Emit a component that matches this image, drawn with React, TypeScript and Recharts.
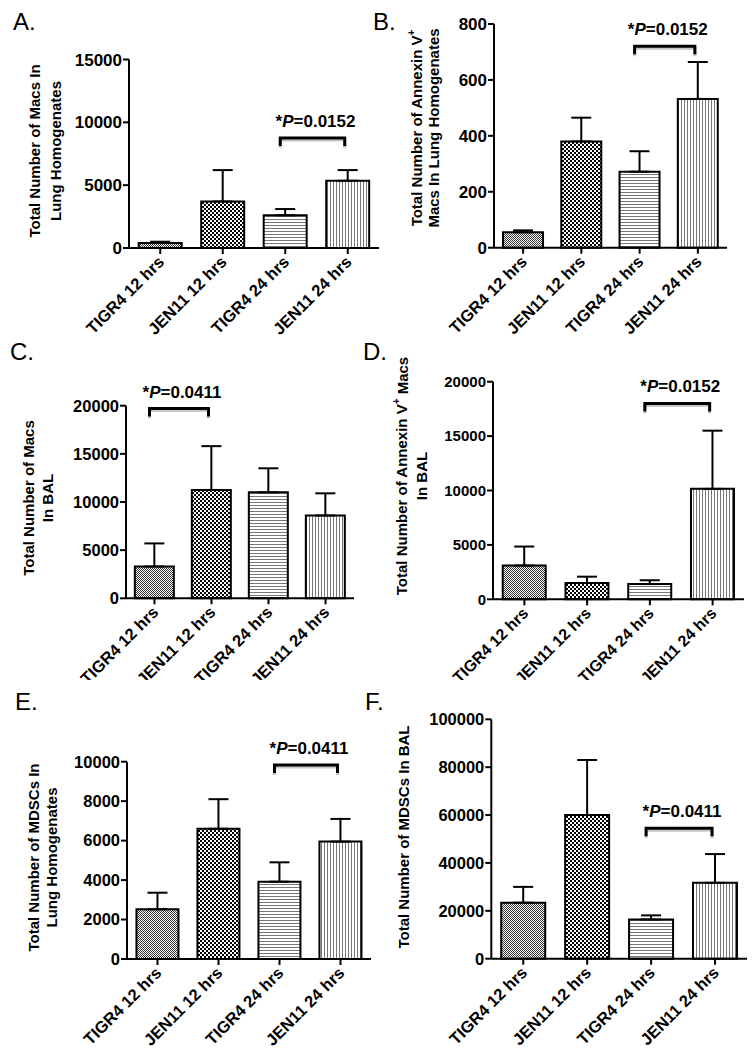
import React from "react";
import { BarChart, Bar, Cell, XAxis, YAxis, ErrorBar, ReferenceLine, Label } from "recharts";

const groups = ["TIGR4 12 hrs", "JEN11 12 hrs", "TIGR4 24 hrs", "JEN11 24 hrs"];

// A. Macs in lung homogenates
const macsLungMean = [400, 3700, 2600, 5350];
const macsLungSem = [100, 2500, 500, 850];
const macsLungTicks = [0, 5000, 10000, 15000];

// B. Annexin V+ macs in lung homogenates
const annexinLungMean = [55, 380, 272, 532];
const annexinLungSem = [7, 85, 73, 132];
const annexinLungTicks = [0, 200, 400, 600, 800];

// C. Macs in BAL
const macsBalMean = [3300, 11250, 11000, 8600];
const macsBalSem = [2400, 4550, 2500, 2300];
const macsBalTicks = [0, 5000, 10000, 15000, 20000];

// D. Annexin V+ macs in BAL
const annexinBalMean = [3100, 1500, 1400, 10150];
const annexinBalSem = [1750, 580, 350, 5350];
const annexinBalTicks = [0, 5000, 10000, 15000, 20000];

// E. MDSCs in lung homogenates
const mdscLungMean = [2520, 6600, 3920, 5950];
const mdscLungSem = [840, 1500, 980, 1150];
const mdscLungTicks = [0, 2000, 4000, 6000, 8000, 10000];

// F. MDSCs in BAL
const mdscBalMean = [23400, 60000, 16400, 31700];
const mdscBalSem = [6600, 23000, 1700, 12000];
const mdscBalTicks = [0, 20000, 40000, 60000, 80000, 100000];

// significance brackets: [from group, to group], height, p value
const bracketPairs = [[2, 3], [2, 3], [0, 1], [2, 3], [2, 3], [2, 3]];
const bracketLevels = [8750, 720, 19700, 18000, 9830, 54500];
const pValues = ["0.0152", "0.0152", "0.0411", "0.0152", "0.0411", "0.0411"];

const panelLetters = ["A.", "B.", "C.", "D.", "E.", "F."];
const yTitles = [
  ["Total Number of Macs In", "Lung Homogenates"],
  ["Total Number of Annexin V⁺", "Macs In Lung Homogenates"],
  ["Total Number of Macs", "In BAL"],
  ["Total Number of Annexin V⁺ Macs", "In BAL"],
  ["Total Number of MDSCs In", "Lung Homogenates"],
  ["Total Number of MDSCs In BAL"],
];

const FONT = "'Liberation Sans', Arial, Helvetica, sans-serif";
const Y_W = 60;
const X_H = 60;
const P_FONT = 17;
const patterns = ["url(#fine)", "url(#checker)", "url(#hlines)", "url(#vlines)"];

const panels = [
  { mean: macsLungMean, sem: macsLungSem, ticks: macsLungTicks,
    box: { x: 0, y: 0, w: 382, h: 340 }, plot: { l: 129, r: 379, t: 59.5, b: 248 },
    yFont: 17, xFont: 16.5, titleX: [34, 55], titleY: 151, letter: { x: 13, y: 30 } },
  { mean: annexinLungMean, sem: annexinLungSem, ticks: annexinLungTicks,
    box: { x: 378, y: 0, w: 378, h: 340 }, plot: { l: 494, r: 727, t: 24, b: 247.7 },
    yFont: 17, xFont: 16.5, titleX: [416.7, 433], titleY: 128, letter: { x: 373, y: 30 } },
  { mean: macsBalMean, sem: macsBalSem, ticks: macsBalTicks,
    box: { x: 0, y: 340, w: 378, h: 340 }, plot: { l: 126, r: 354, t: 405.7, b: 598.3 },
    yFont: 16.5, xFont: 16.5, titleX: [28.5, 47.5], titleY: 498, letter: { x: 10, y: 360 } },
  { mean: annexinBalMean, sem: annexinBalSem, ticks: annexinBalTicks,
    box: { x: 378, y: 340, w: 378, h: 340 }, plot: { l: 493, r: 744, t: 381.7, b: 599.3 },
    yFont: 15, xFont: 16, titleX: [401.7, 421.7], titleY: 476, letter: { x: 363, y: 360 } },
  { mean: mdscLungMean, sem: mdscLungSem, ticks: mdscLungTicks,
    box: { x: 0, y: 680, w: 378, h: 369 }, plot: { l: 127, r: 371, t: 761.7, b: 959 },
    yFont: 16.5, xFont: 16.5, titleX: [33, 51], titleY: 857.5, letter: { x: 15, y: 710 } },
  { mean: mdscBalMean, sem: mdscBalSem, ticks: mdscBalTicks,
    box: { x: 378, y: 680, w: 378, h: 369 }, plot: { l: 491.3, r: 747, t: 719.3, b: 958.7 },
    yFont: 16.5, xFont: 16.5, titleX: [403.3], titleY: 837, letter: { x: 365, y: 710 } },
];

function SlantTick(props: any) {
  const { x, y, payload, font } = props;
  const ax = x + 5;
  const ay = y + 7;
  return (
    <text x={ax} y={ay} transform={`rotate(-45 ${ax} ${ay})`} textAnchor="end"
      fontSize={font} fontWeight="bold" fontFamily={FONT} fill="#000">
      {payload.value}
    </text>
  );
}

function titleLine(s: string) {
  const parts = s.split("⁺");
  if (parts.length === 1) return s;
  return (
    <>
      {parts[0]}
      <tspan dy={-6} fontSize={10}>+</tspan>
      <tspan dy={6}>{parts[1]}</tspan>
    </>
  );
}

function Panel({ idx }: { idx: number }) {
  const p = panels[idx];
  const data = groups.map((g, i) => ({ group: g, mean: p.mean[i], err: [0, p.sem[i]] }));
  const margin = {
    top: p.plot.t - p.box.y,
    left: p.plot.l - p.box.x - Y_W,
    right: p.box.x + p.box.w - p.plot.r,
    bottom: p.box.y + p.box.h - p.plot.b - X_H,
  };
  const [from, to] = bracketPairs[idx];
  const pv = pValues[idx];
  const axisStyle = { stroke: "#000", strokeWidth: 2 };

  const bracket = (props: any) => {
    const l = props.x1 - 5;
    const r = props.x2 - 3;
    const y = props.y1;
    return (
      <g>
        <path d={`M${l},${y + 10}V${y + 2}H${r}V${y + 10}`} fill="none" stroke="#c8c8c8" strokeWidth={3} />
        <path d={`M${l},${y + 8}V${y}H${r}V${y + 8}`} fill="none" stroke="#000" strokeWidth={3} />
        <text x={(l + r) / 2 + 3} y={y - 11} textAnchor="middle" fontSize={P_FONT}
          fontWeight="bold" fontFamily={FONT} fill="#000">
          *<tspan fontStyle="italic">P</tspan>={pv}
        </text>
      </g>
    );
  };

  const title = () => (
    <g>
      {yTitles[idx].map((line, i) => {
        const cx = p.titleX[i] - p.box.x;
        const cy = p.titleY - p.box.y;
        return (
          <text key={i} x={cx} y={cy} transform={`rotate(-90 ${cx} ${cy})`} textAnchor="middle"
            dominantBaseline="central" fontSize={15} fontWeight="bold" fontFamily={FONT} fill="#000">
            {titleLine(line)}
          </text>
        );
      })}
    </g>
  );

  return (
    <div style={{ position: "absolute", left: p.box.x, top: p.box.y, width: p.box.w, height: p.box.h }}>
      <BarChart width={p.box.w} height={p.box.h} data={data} margin={margin} barCategoryGap="15.5%">
        <XAxis dataKey="group" height={X_H} interval={0} axisLine={axisStyle} tickLine={axisStyle}
          tickSize={6} tick={<SlantTick font={p.xFont} />} />
        <YAxis width={Y_W} type="number" domain={[0, p.ticks[p.ticks.length - 1]]} ticks={p.ticks}
          interval={0} axisLine={axisStyle} tickLine={axisStyle} tickSize={6} tickMargin={1}
          tick={{ fontSize: p.yFont, fontWeight: "bold", fill: "#000", fontFamily: FONT }}>
          <Label content={title} />
        </YAxis>
        <Bar dataKey="mean" stroke="#000" strokeWidth={2} isAnimationActive={false}>
          {data.map((d, i) => (
            <Cell key={d.group} fill={patterns[i]} />
          ))}
          <ErrorBar dataKey="err" width={10} stroke="#000" strokeWidth={2} direction="y" />
        </Bar>
        <ReferenceLine
          segment={[{ x: groups[from], y: bracketLevels[idx] }, { x: groups[to], y: bracketLevels[idx] }]}
          ifOverflow="visible"
          shape={bracket}
        />
      </BarChart>
    </div>
  );
}

export default function App() {
  return (
    <div style={{ position: "absolute", left: 0, top: 0, width: 756, height: 1049, background: "#fff" }}>
      <svg width={0} height={0} style={{ position: "absolute" }}>
        <defs>
          <pattern id="fine" patternUnits="userSpaceOnUse" width={2} height={2}>
            <rect width={2} height={2} fill="#fff" />
            <rect width={1} height={1} fill="#333" />
            <rect x={1} y={1} width={1} height={1} fill="#333" />
          </pattern>
          <pattern id="checker" patternUnits="userSpaceOnUse" width={4} height={4}>
            <rect width={4} height={4} fill="#fff" />
            <rect width={2} height={2} fill="#000" />
            <rect x={2} y={2} width={2} height={2} fill="#000" />
          </pattern>
          <pattern id="hlines" patternUnits="userSpaceOnUse" width={3} height={3}>
            <rect width={3} height={3} fill="#fff" />
            <rect width={3} height={1} fill="#777" />
          </pattern>
          <pattern id="vlines" patternUnits="userSpaceOnUse" width={3} height={3}>
            <rect width={3} height={3} fill="#fff" />
            <rect width={1} height={3} fill="#777" />
          </pattern>
        </defs>
      </svg>
      {panels.map((_, i) => (
        <Panel key={i} idx={i} />
      ))}
      <svg width={756} height={1049} style={{ position: "absolute", left: 0, top: 0, pointerEvents: "none" }}>
        {panels.map((p, i) => (
          <text key={i} x={p.letter.x} y={p.letter.y} fontSize={24} fontFamily={FONT} fill="#000">
            {panelLetters[i]}
          </text>
        ))}
      </svg>
    </div>
  );
}
